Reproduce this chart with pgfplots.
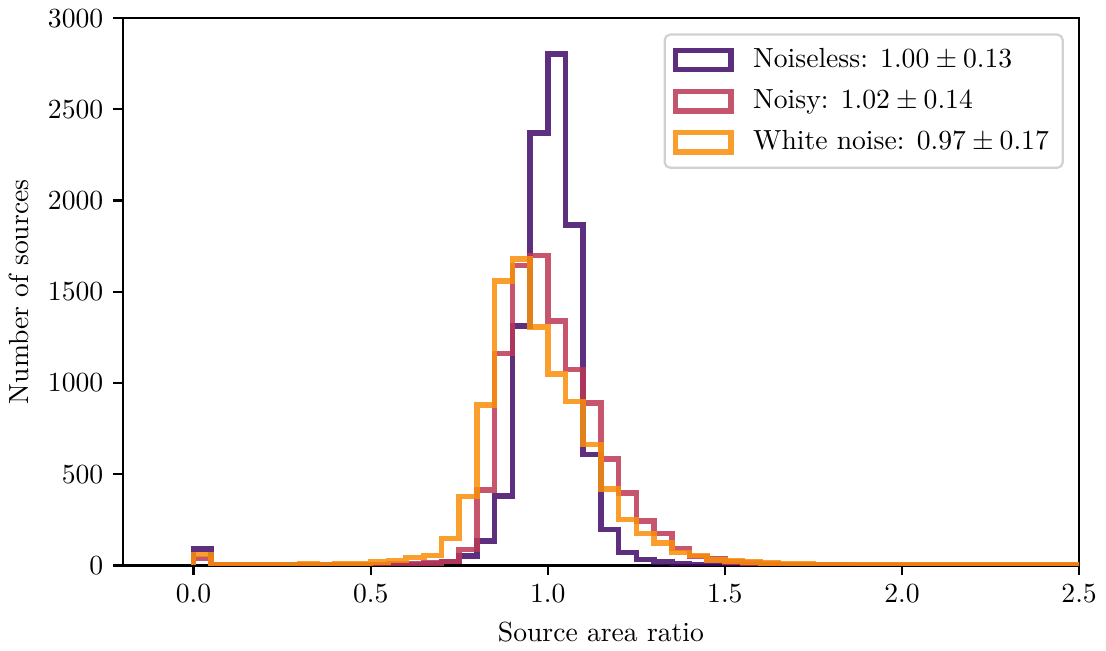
\documentclass[border=0pt]{standalone}
\usepackage{pgfplots}
\usepackage{pgfplotstable}
\pgfplotsset{compat=1.18}
\definecolor{infpurple}{HTML}{420A68}
\definecolor{infred}{HTML}{BC3754}
\definecolor{inforange}{HTML}{F98E09}

% bin left edges (width 0.05); first row starts the outline at zero
\pgfplotstableread{
x      n     p     w
0.00   0     0     0
0.00   90    38    60
0.05   3     4     5
0.10   2     4     5
0.15   2     3     5
0.20   2     3     5
0.25   2     4     6
0.30   2     4     8
0.35   2     4     6
0.40   2     4     8
0.45   3     5     11
0.50   3     6     18
0.55   4     7     28
0.60   5     8     44
0.65   9     12    55
0.70   22    22    147
0.75   52    87    378
0.80   135   413   880
0.85   382   1162  1558
0.90   1311  1645  1680
0.95   2370  1698  1307
1.00   2802  1340  1049
1.05   1865  1075  898
1.10   607   889   662
1.15   198   584   420
1.20   70    397   253
1.25   32    244   176
1.30   20    176   122
1.35   10    93    71
1.40   6     49    55
1.45   4     36    30
1.50   3     20    25
1.55   2     12    20
1.60   2     8     12
1.65   1     6     9
1.70   1     5     7
1.75   1     4     6
1.80   1     3     5
1.85   0     3     5
1.90   0     2     5
1.95   0     2     4
2.00   0     2     4
2.05   0     1     4
2.10   0     1     3
2.15   0     1     3
2.20   0     1     3
2.25   0     1     3
2.30   0     1     2
2.35   0     1     2
2.40   0     1     2
2.45   0     1     2
2.50   0     1     2
2.55   0     1     2
2.60   0     1     2
}\histdata

\begin{document}
\begin{tikzpicture}
\begin{axis}[
    scale only axis,
    width=346pt, height=198pt,
    xmin=-0.2, xmax=2.5,
    ymin=0, ymax=3000,
    xtick={0,0.5,1,1.5,2,2.5},
    ytick={0,500,1000,1500,2000,2500,3000},
    xticklabel={\pgfmathprintnumber[fixed,fixed zerofill,precision=1]{\tick}},
    yticklabel style={/pgf/number format/.cd, fixed, 1000 sep={}},
    scaled y ticks=false,
    tick align=outside,
    xtick pos=left, ytick pos=left,
    major tick length=3.5pt,
    tick style={line width=0.8pt, black},
    axis line style={line width=0.8pt},
    xlabel={Source area ratio},
    ylabel={Number of sources},
    legend cell align=left,
    legend style={at={(0.984,0.972)}, anchor=north east, font=\normalsize,
        rounded corners=2pt, draw=black!18, line width=0.8pt,
        inner xsep=3pt, inner ysep=3pt, row sep=2.5pt},
    legend image code/.code={%
        \draw[#1, line width=2pt, sharp corners] (0pt,-3.5pt) rectangle (20pt,3.5pt);
        \path[draw=none] (0pt,0pt) -- (26pt,0pt);},
    every axis plot/.append style={line width=2pt, const plot mark left, opacity=0.85},
]
\addplot[color=infpurple] table[x=x, y=n] {\histdata};
\addlegendentry{Noiseless: $1.00 \pm 0.13$}
\addplot[color=infred] table[x=x, y=p] {\histdata};
\addlegendentry{Noisy: $1.02 \pm 0.14$}
\addplot[color=inforange] table[x=x, y=w] {\histdata};
\addlegendentry{White noise: $0.97 \pm 0.17$}
\end{axis}
\end{tikzpicture}
\end{document}
